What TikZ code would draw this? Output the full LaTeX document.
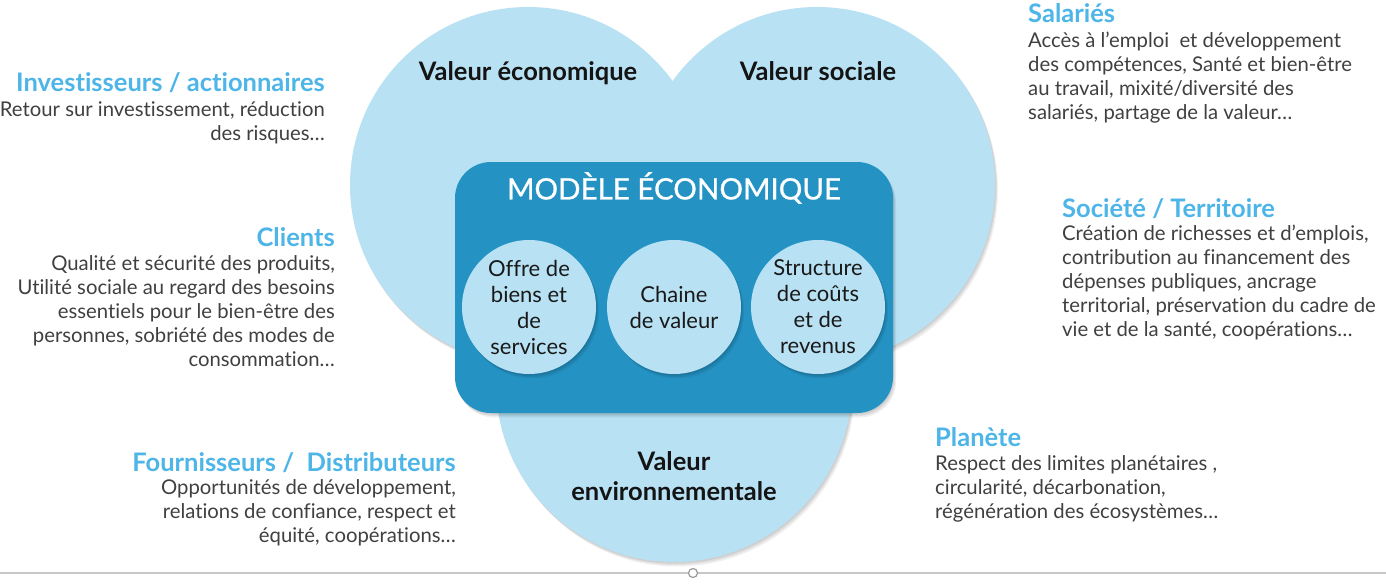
\documentclass[tikz,border=0pt]{standalone}
\usepackage{fontspec}
\setmainfont[Ligatures=NoCommon]{Lato}
\newfontfamily\medfont[FakeBold=0.8,Ligatures=NoCommon]{Lato}
\usetikzlibrary{shadows}
\definecolor{lblue}{HTML}{B8E2F4}
\definecolor{boxblue}{HTML}{2493C4}
\definecolor{headblue}{HTML}{4DB5E8}
\definecolor{bodygray}{HTML}{404040}
\definecolor{linegray}{HTML}{C8C8C8}
\begin{document}
\begin{tikzpicture}[x=1pt,y=-1pt,
  softshadow/.style={
    preaction={fill=black,opacity=0.07,transform canvas={xshift=1pt,yshift=-1.5pt}},
    preaction={fill=black,opacity=0.07,transform canvas={xshift=2pt,yshift=-3pt}},
    preaction={fill=black,opacity=0.06,transform canvas={xshift=3pt,yshift=-4.5pt}}},
  bigcircle/.style={circle,fill=lblue,minimum size=356pt,inner sep=0pt,softshadow},
  smallcircle/.style={circle,fill=lblue,minimum size=134pt,inner sep=0pt,softshadow,
    align=center,font=\fontsize{22}{26}\selectfont,text=black!90},
  vlabel/.style={font=\fontsize{25.5}{30}\selectfont\bfseries,text=black!92,inner sep=0pt,align=center},
  head/.style={font=\fontsize{25.5}{30}\selectfont\bfseries,text=headblue,inner sep=0pt},
  bodyr/.style={font=\fontsize{20.3}{24}\selectfont,text=bodygray,inner sep=0pt,align=right},
  bodyl/.style={font=\fontsize{20.3}{24}\selectfont,text=bodygray,inner sep=0pt,align=left}]
\useasboundingbox (0,0) rectangle (1386,586);
\fill[white] (0,0) rectangle (1386,586);

% big circles
\node[bigcircle] (eco) at (528,185) {};
\node[bigcircle] (soc) at (817,185) {};
\node[bigcircle] (env) at (674,384) {};

\node[vlabel,anchor=base] (ecoL) at (528,81) {Valeur économique};
\node[vlabel,anchor=base] (socL) at (818,81) {Valeur sociale};
\node[vlabel,anchor=base] (envL1) at (674,470) {Valeur};
\node[vlabel,anchor=base] (envL2) at (674,500) {environnementale};

% business model box
\node[fill=boxblue,rounded corners=36pt,minimum width=438pt,minimum height=251pt,
      inner sep=0pt,softshadow] (box) at (674,287.5) {};
\node[text=white,font=\fontsize{29.5}{32}\medfont,inner sep=0pt] (title) at (674,188) {MODÈLE ÉCONOMIQUE};

\node[smallcircle] (offre) at (529,307) {Offre de\\biens et\\de\\services};
\node[smallcircle] (chaine) at (674,307) {Chaine\\de valeur};
\node[smallcircle] (struct) at (818,307) {Structure\\de coûts\\et de\\revenus};

% left stakeholders
\node[head,anchor=base east] (invH) at (325,92) {Investisseurs / actionnaires};
\node[bodyr,anchor=north east] (invB) at (325,101) {Retour sur investissement, réduction\\des risques…};

\node[head,anchor=base east] (cliH) at (335,246) {Clients};
\node[bodyr,anchor=north east] (cliB) at (335,255) {Qualité et sécurité des produits,\\Utilité sociale au regard des besoins\\essentiels pour le bien-être des\\personnes, sobriété des modes de\\consommation…};

\node[head,anchor=base east] (fouH) at (456,471) {Fournisseurs /\ \ Distributeurs};
\node[bodyr,anchor=north east] (fouB) at (456,479) {Opportunités de développement,\\relations de confiance, respect et\\équité, coopérations…};

% right stakeholders
\node[head,anchor=base west] (salH) at (1028,23) {Salariés};
\node[bodyl,anchor=north west] (salB) at (1028,32) {Accès à l’emploi\ \ et développement\\des compétences, Santé et bien-être\\au travail, mixité/diversité des\\salariés, partage de la valeur…};

\node[head,anchor=base west] (socH) at (1062,217) {Société / Territoire};
\node[bodyl,anchor=north west] (socB) at (1062,225) {Création de richesses et d’emplois,\\contribution au financement des\\dépenses publiques, ancrage\\territorial, préservation du cadre de\\vie et de la santé, coopérations…};

\node[head,anchor=base west] (plaH) at (935,446) {Planète};
\node[bodyl,anchor=north west] (plaB) at (935,455) {Respect des limites planétaires ,\\circularité, décarbonation,\\régénération des écosystèmes…};

% bottom line with handle
\coordinate (lineL) at (0,573);
\coordinate (lineR) at (1386,573);
\draw[linegray,line width=1.3pt] (lineL) -- (lineR);
\node[circle,draw=gray!80,fill=white,line width=1.2pt,minimum size=9pt,inner sep=0pt] (handle) at (693,573) {};
\end{tikzpicture}
\end{document}
